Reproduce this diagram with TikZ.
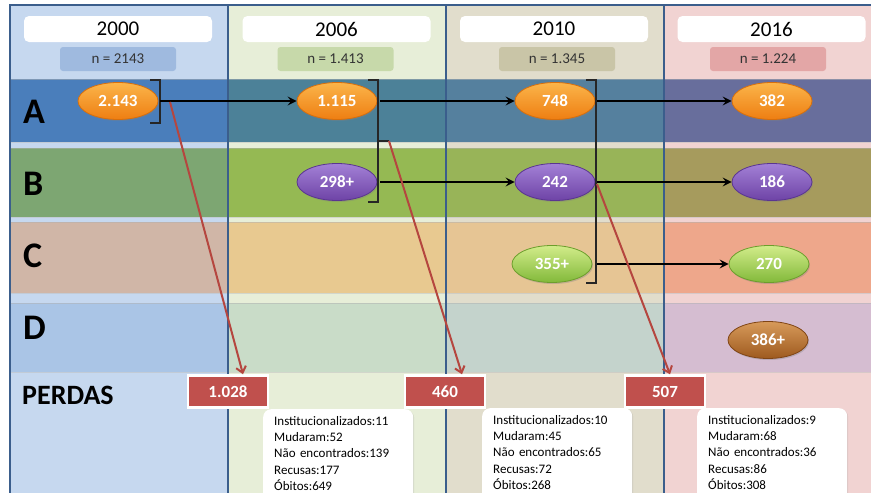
\documentclass[tikz,border=0pt]{standalone}
\usepackage{fontspec}
\setmainfont{Carlito}
\usetikzlibrary{arrows.meta,shapes.geometric,shadows}
% column base colours
\definecolor{baseA}{HTML}{C6D8EF}
\definecolor{baseB}{HTML}{E7EED8}
\definecolor{baseC}{HTML}{E1DDCC}
\definecolor{baseD}{HTML}{F1D3D2}
% row cells
\definecolor{aA}{HTML}{4A7EBB}\definecolor{aB}{HTML}{4C8198}\definecolor{aC}{HTML}{55809E}\definecolor{aD}{HTML}{686E9C}
\definecolor{bA}{HTML}{7DA672}\definecolor{bB}{HTML}{95B953}\definecolor{bC}{HTML}{98B458}\definecolor{bD}{HTML}{A69B5D}
\definecolor{cA}{HTML}{D0B6A7}\definecolor{cB}{HTML}{E8C990}\definecolor{cC}{HTML}{E6C594}\definecolor{cD}{HTML}{EEA78B}
\definecolor{dA}{HTML}{AAC5E6}\definecolor{dB}{HTML}{C9DCC8}\definecolor{dC}{HTML}{C4D3CC}\definecolor{dD}{HTML}{D5BDD1}
% header n boxes
\definecolor{nA}{HTML}{9FBADF}\definecolor{nB}{HTML}{C7D9AA}\definecolor{nC}{HTML}{C9C5A7}\definecolor{nD}{HTML}{E3A6A6}
\definecolor{divider}{HTML}{3B5E8C}
\definecolor{redbox}{HTML}{C0504D}
\definecolor{redarrow}{HTML}{B5463F}
\definecolor{orL}{HTML}{FBB54A}\definecolor{orM}{HTML}{EE7E12}\definecolor{orD}{HTML}{D86F0C}
\definecolor{puL}{HTML}{A381D6}\definecolor{puM}{HTML}{6E43A6}\definecolor{puD}{HTML}{5A3590}
\definecolor{grL}{HTML}{D2EC8A}\definecolor{grM}{HTML}{82B93A}\definecolor{grD}{HTML}{6C9E2C}
\definecolor{brL}{HTML}{D79A5A}\definecolor{brM}{HTML}{9E5A1F}\definecolor{brD}{HTML}{804515}
\newcommand{\tailstrut}{\rule[-14pt]{0pt}{14pt}}
\tikzset{
  ell/.style={ellipse, minimum width=80pt, minimum height=37pt, inner sep=0pt, text=white,
    font=\bfseries\fontsize{17}{19}\selectfont, line width=0.8pt,
    drop shadow={opacity=0.35, shadow xshift=1pt, shadow yshift=-1.5pt}},
  orangeE/.style={ell, draw=orD, top color=orL, bottom color=orM},
  purpleE/.style={ell, draw=puD, top color=puL, bottom color=puM},
  greenE/.style={ell, draw=grD, top color=grL, bottom color=grM},
  brownE/.style={ell, draw=brD, top color=brL, bottom color=brM},
  yearbox/.style={fill=white, rounded corners=5pt, minimum width=188pt, minimum height=26pt, inner sep=0pt,
    font=\fontsize{21}{23}\selectfont},
  nbox/.style={rounded corners=3pt, minimum width=116pt, minimum height=24pt, inner sep=0pt,
    font=\fontsize{15}{17}\selectfont, text=black!80},
  rowlabel/.style={anchor=west, inner sep=0pt, font=\bfseries\fontsize{36}{38}\selectfont},
  lossbox/.style={fill=redbox, draw=white, line width=2.5pt, minimum width=80pt, minimum height=32pt,
    inner sep=0pt, text=white, font=\bfseries\fontsize{17}{19}\selectfont,
    drop shadow={opacity=0.3, shadow xshift=1pt, shadow yshift=-1pt}},
  listbox/.style={anchor=north west, fill=white, rounded corners=8pt, text width=128pt, inner xsep=11pt,
    inner ysep=7pt, align=left, font=\fontsize{13}{16.3}\selectfont,
    drop shadow={opacity=0.2, shadow xshift=1pt, shadow yshift=-1pt}},
  flow/.style={line width=2.8pt, -{Stealth[length=9pt, width=9pt, inset=3.5pt]}},
  loss/.style={draw=redarrow, line width=2pt, -{Straight Barb[length=6pt, width=10pt, line width=2pt]}},
  bracket/.style={draw=black!85, line width=1.3pt},
}
\begin{document}
\begin{tikzpicture}[x=1pt,y=-1pt]
\useasboundingbox (0,0) rectangle (871,493);
\clip (0,0) rectangle (871,493);
\fill[white] (0,0) rectangle (871,493);
% column bases
\fill[baseA] (10,5) rectangle (228,493);
\fill[baseB] (228,5) rectangle (446,493);
\fill[baseC] (446,5) rectangle (664,493);
\fill[baseD] (664,5) rectangle (871,493);
% row bands
\foreach \ya/\yb/\ca/\cb/\cc/\cd in {79/142/aA/aB/aC/aD, 148/217/bA/bB/bC/bD, 222/293/cA/cB/cC/cD, 303/372/dA/dB/dC/dD}{
  \fill[\ca] (10,\ya) rectangle (228,\yb);
  \fill[\cb] (228,\ya) rectangle (446,\yb);
  \fill[\cc] (446,\ya) rectangle (664,\yb);
  \fill[\cd] (664,\ya) rectangle (871,\yb);
  \draw[black!30, opacity=0.5, line width=1pt] (10,\ya) -- (871,\ya);
  \draw[black!25, opacity=0.5, line width=1pt] (10,\yb) -- (871,\yb);
}
% frame and dividers
\draw[divider, line width=1.5pt] (10,493) -- (10,5) -- (871,5);
\foreach \x in {228,446,664} \draw[divider, line width=1.5pt] (\x,5) -- (\x,493);
% header
\node[yearbox] (y1) at (118,29) {2000};
\node[yearbox] (y2) at (336.5,29) {2006};
\node[yearbox] (y3) at (554,29) {2010};
\node[yearbox] (y4) at (771.5,29) {2016};
\node[nbox, fill=nA] (n1) at (118,59) {n = 2143};
\node[nbox, fill=nB] (n2) at (335.5,59) {n = 1.413};
\node[nbox, fill=nC] (n3) at (557,59) {n = 1.345};
\node[nbox, fill=nD] (n4) at (768,59) {n = 1.224};
% row labels
\node[rowlabel] (lA) at (23,112) {A};
\node[rowlabel] (lB) at (23,184) {B};
\node[rowlabel] (lC) at (23,256) {C};
\node[rowlabel] (lD) at (23,328) {D};
\node[anchor=west, inner sep=0pt, font=\bfseries\fontsize{28}{30}\selectfont] (lP) at (22,395) {PERDAS};
% ellipses
\node[orangeE] (a1) at (118,101) {2.143};
\node[orangeE] (a2) at (337,101) {1.115};
\node[orangeE] (a3) at (555,101) {748};
\node[orangeE] (a4) at (772,101) {382};
\node[purpleE] (b2) at (337,182) {298+};
\node[purpleE] (b3) at (555,182) {242};
\node[purpleE] (b4) at (772,182) {186};
\node[greenE] (c3) at (552,264) {355+};
\node[greenE] (c4) at (769,264) {270};
\node[brownE] (d4) at (768,340) {386+};
% brackets
\draw[bracket] (150,80) -- (160,80) -- (160,123) -- (150,123);
\coordinate (k1) at (160,101);
\draw[bracket] (368,80) -- (378,80) -- (378,202) -- (368,202);
\draw[bracket] (378,141) -- (389,141);
\coordinate (k2a) at (380,101);
\coordinate (k2b) at (380,182);
\coordinate (k2m) at (389,141);
\draw[bracket] (586,80) -- (596,80) -- (596,283) -- (586,283);
\coordinate (k3a) at (597,101);
\coordinate (k3b) at (597,182);
\coordinate (k3c) at (597,264);
% flows
\draw[flow] (k1) -- (a2.west);
\draw[flow] (k2a) -- (a3.west);
\draw[flow] (k2b) -- (b3.west);
\draw[flow] (k3a) -- (a4.west);
\draw[flow] (k3b) -- (b4.west);
\draw[flow] (k3c) -- (c4.west);
% loss boxes
\node[lossbox] (p1) at (228,391.5) {1.028};
\node[lossbox] (p2) at (445,391.5) {460};
\node[lossbox] (p3) at (665,391.5) {507};
% loss arrows
\coordinate (r1) at (170,102);
\coordinate (r3) at (597,184);
\draw[loss] (r1) -- ([xshift=15pt]p1.north);
\draw[loss] (k2m) -- ([xshift=17pt]p2.north);
\draw[loss] (r3) -- ([xshift=5pt]p3.north);
% loss detail
\node[listbox] (t1) at (263,409) {Institucionalizados:11\\Mudaram:52\\Não encontrados:139\\Recusas:177\\Óbitos:649\tailstrut};
\node[listbox] (t2) at (482,408) {Institucionalizados:10\\Mudaram:45\\Não encontrados:65\\Recusas:72\\Óbitos:268\tailstrut};
\node[listbox] (t3) at (697,408) {Institucionalizados:9\\Mudaram:68\\Não encontrados:36\\Recusas:86\\Óbitos:308\tailstrut};
\end{tikzpicture}
\end{document}
